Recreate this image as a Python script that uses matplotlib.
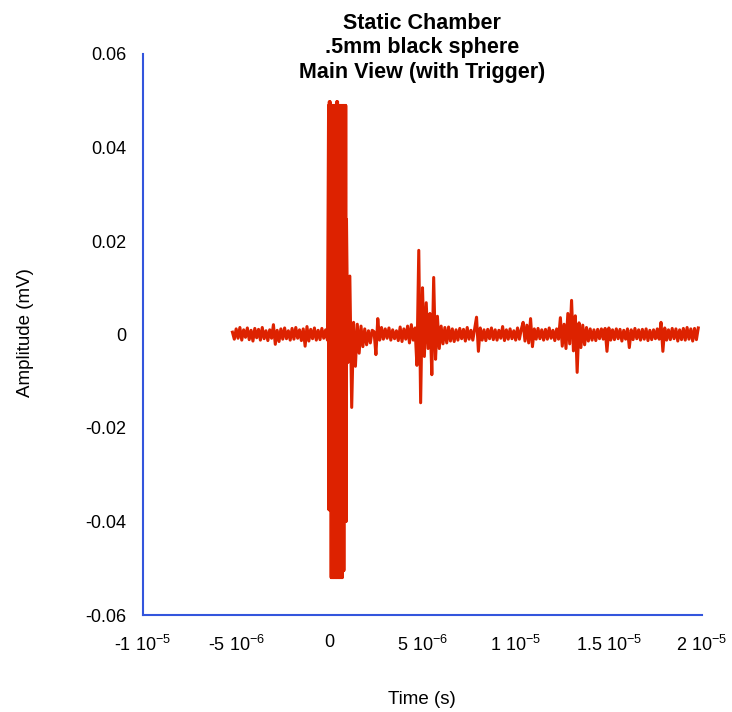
import numpy as np
import matplotlib.pyplot as plt

plt.rcParams['font.family'] = ['Liberation Sans', 'DejaVu Sans']
plt.rcParams['mathtext.fontset'] = 'custom'
plt.rcParams['mathtext.rm'] = 'Liberation Sans'
plt.rcParams['mathtext.it'] = 'Liberation Sans'

# Sampled trace in three segments: start time and step in microseconds,
# amplitude in units of 1e-4 mV

# pre-trigger noise (-5.2 .. -0.1 us)
pre_start_us, pre_step_us = -5.2, 0.1
pre_amp_e4 = [
    5, -10, 12, -8, 15, -12, 10, -6, 14, -11,
    9, -14, 13, -7, 11, -12, 15, -9, 8, -13,
    10, -8, 21, -21, 9, -15, 12, -10, 14, -9,
    8, -12, 13, -10, 15, -8, 10, -13, 12, -25,
    17, -14, 11, -9, 14, -12, 9, -11, 13, -8,
    10, -12,
]

# main burst (-0.04 .. 0.92 us)
burst_start_us, burst_step_us = -0.04, 0.02
burst_amp_e4 = [
    490, -375, 498, -375, 498, -375, 490, -520, 490, -520,
    490, -520, 490, -520, 490, -520, 490, -520, 490, -520,
    490, -520, 498, -520, 498, -520, 490, -520, 490, -520,
    490, -520, 490, -520, 490, -520, 490, -520, 490, -505,
    490, -505, 490, -400, 490, -400, 490, -400, 246,
]

# after the burst (1.0 .. 19.8 us)
post_start_us, post_step_us = 1.0, 0.1
post_amp_e4 = [
    # ringing (1.0 .. 4.6 us)
    -60, 125, -156, 26, -68, 22, -40, 18, -26, 12,
    -22, 8, -18, 9, 6, -43, 34, -12, 15, -10,
    12, -8, 14, -12, 10, -9, 8, -13, 16, -15,
    12, -10, 18, -18, 21, -12, 14,
    # reflection at ~5 us (4.7 .. 5.9 us)
    -66, 180, -146, 100, -47, 68, -30, 45, -86, 122,
    -53, 39, -30,
    # noise (6.0 .. 12.3 us)
    18, -20, 15, -18, 16, -14, 12, -15, 10, -12,
    13, -9, 11, -14, 15, -10, 9, -12, 12, 37,
    -36, 14, -12, 10, -13, 11, -9, 14, -11, 10,
    -12, 9, -8, 17, -13, 10, -10, 12, -9, 8,
    -12, 14, -10, 11, 26, -14, 20, -18, 34, -26,
    12, -10, 13, -9, 10, -12, 11, -10, 14, -8,
    9, -13, 12, -10,
    # second echo (12.4 .. 13.9 us)
    36, -25, 22, -30, 45, -20, 73, -35, 40, -81,
    25, -28, 20, -22, 15, -14,
    # tail noise (14.0 .. 19.8 us)
    12, -12, 10, -13, 11, -9, 12, -10, 13, -36,
    14, -12, 10, -11, 12, -9, 11, -14, 9, -10,
    12, -28, 10, -11, 13, -9, 10, -12, 11, -10,
    12, -13, 9, -11, 10, -9, 12, -10, 26, -36,
    14, -12, 10, -11, 13, -9, 12, -14, 10, -11,
    13, -12, 15, -10, 12, -14, 13, -11, 14,
]

x_ticks = [-1e-5, -5e-6, 0, 5e-6, 1e-5, 1.5e-5, 2e-5]
x_tick_labels = ['-1 10$^{-5}$', '-5 10$^{-6}$', '0', '5 10$^{-6}$',
                 '1 10$^{-5}$', '1.5 10$^{-5}$', '2 10$^{-5}$']
y_ticks = [0.06, 0.04, 0.02, 0, -0.02, -0.04, -0.06]
y_tick_labels = ['0.06', '0.04', '0.02', '0', '-0.02', '-0.04', '-0.06']


def segment_times(start_us, step_us, values):
    return (start_us + step_us * np.arange(len(values))) * 1e-6


time = np.concatenate([
    segment_times(pre_start_us, pre_step_us, pre_amp_e4),
    segment_times(burst_start_us, burst_step_us, burst_amp_e4),
    segment_times(post_start_us, post_step_us, post_amp_e4),
])
amp = np.array(pre_amp_e4 + burst_amp_e4 + post_amp_e4) * 1e-4

fig = plt.figure(figsize=(7.32, 7.12), dpi=100)
ax = fig.add_axes([143 / 732, 97 / 712, 559 / 732, 561 / 712])

ax.plot(time, amp, color='#DD2200', lw=2.2)

ax.set_xlim(-1e-5, 2e-5)
ax.set_ylim(-0.06, 0.06)
ax.set_xticks(x_ticks)
ax.set_xticklabels(x_tick_labels)
ax.set_yticks(y_ticks)
ax.set_yticklabels(y_tick_labels)
ax.tick_params(length=0, labelsize=13)
ax.tick_params(axis='y', pad=12)
ax.tick_params(axis='x', pad=14)

for side in ['top', 'right']:
    ax.spines[side].set_visible(False)
for side in ['left', 'bottom']:
    ax.spines[side].set_color('#3355DD')
    ax.spines[side].set_linewidth(1.5)

fig.text(422 / 732, 1 - 48 / 712, "Static Chamber\n.5mm black sphere\nMain View (with Trigger)",
         ha='center', va='center', fontsize=15.5, fontweight='bold', linespacing=1.2)
fig.text(422 / 732, 1 - 700 / 712, "Time (s)", ha='center', va='center', fontsize=13.5)
fig.text(25 / 732, 1 - 333 / 712, "Amplitude (mV)", ha='center', va='center',
         rotation=90, fontsize=13.5)

fig.savefig('out.png', dpi=100)
